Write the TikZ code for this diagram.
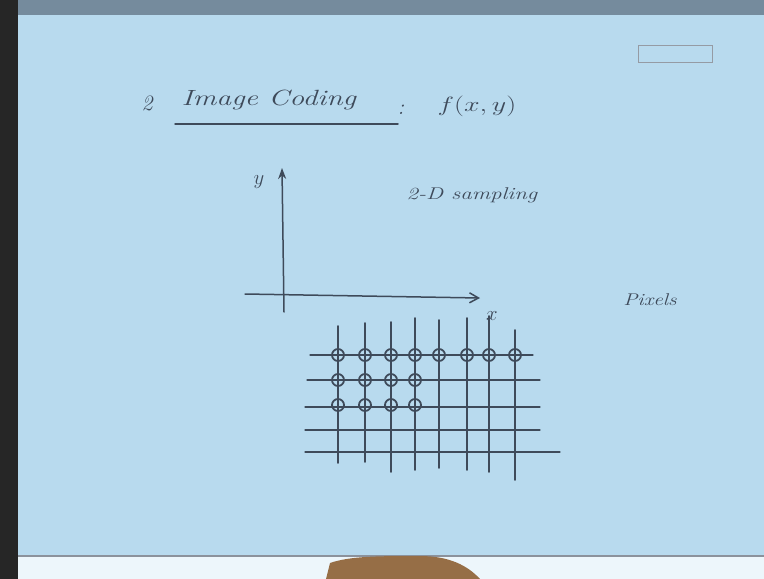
\documentclass[tikz,border=0pt]{standalone}
\usepackage{amsmath,amssymb}
\usepackage{tikz}
\usetikzlibrary{arrows.meta,positioning}
\usepackage{xcolor}
\definecolor{board}{RGB}{184,218,238}
\definecolor{ink}{RGB}{62,74,90}
\definecolor{skin}{RGB}{150,110,70}
\newcommand{\wide}[1]{\scalebox{1.35}[1]{#1}}

\begin{document}
\begin{tikzpicture}[x=1pt,y=-1pt,
  hand/.style={ink,line width=1.5pt,line cap=round},
  txt/.style={ink,font=\fontsize{22}{26}\selectfont\itshape},
  small/.style={ink,font=\fontsize{17}{20}\selectfont\itshape},
  pix/.style={circle,draw=ink,line width=1.8pt,minimum size=12pt,inner sep=0pt}]
 \useasboundingbox (0,0) rectangle (764,579);
 \fill[board] (0,0) rectangle (764,579);
 % frame of the photo
 \fill[black!85] (0,0) rectangle (18,579);
 \fill[ink!55!board] (18,0) rectangle (764,15);
 \fill[board!25!white] (18,556) rectangle (764,579);
 \draw[ink!60,line width=1.2pt] (18,556) -- (764,556);
 \fill[skin] (326,579) -- (330,563) .. controls (350,556) and (380,556) .. (420,556) .. controls (450,556) and (468,566) .. (480,579) -- cycle;
 % title
 \node[txt] (num) at (147,103) {2};
 \node[txt,anchor=west] (title) at (178,100) {\wide{Image Coding}};
 \node[txt] (colon) at (401,110) {:};
 \coordinate (ul1) at (175,124);
 \coordinate (ul2) at (398,124);
 \draw[hand] (ul1) -- (ul2);
 \node[txt] (fxy) at (477,106) {\wide{$f(x,y)$}};
 \node[small] (samp) at (472,195) {\wide{2-D sampling}};
 \node[small] (pixels) at (650,300) {\scalebox{1.25}[1]{Pixels}};
 \node[draw=ink!55,line width=0.8pt,minimum width=74pt,minimum height=17pt] (tag) at (675,54) {};
 % axes
 \coordinate (ybot) at (284,312);
 \coordinate (ytip) at (282,168);
 \coordinate (xleft) at (245,294);
 \coordinate (xtip) at (480,298);
 \draw[hand,-{Stealth[length=11pt,width=8pt]}] (ybot) -- (ytip);
 \draw[hand,-{Straight Barb[length=9pt,width=10pt]}] (xleft) -- (xtip);
 \node[txt] (ylab) at (259,182) {$y$};
 \node[txt] (xlab) at (492,316) {$x$};
 % sampling grid
 \foreach \y/\l/\r in {355/310/533,380/307/540,407/305/540,430/305/540,452/305/560}
   \draw[hand,line width=1.3pt] (\l,\y) -- (\r,\y);
 \foreach \x/\t/\b in {338/326/463,365/323/462,391/322/472,415/318/470,439/320/468,467/318/470,489/316/472,515/330/480}
   \draw[hand,line width=1.6pt] (\x,\t) -- (\x,\b);
 % pixels
 \foreach \x [count=\i] in {338,365,391,415,439,467,489,515}
   \node[pix] (p1\i) at (\x,355) {};
 \foreach \x [count=\i] in {338,365,391,415}{
   \node[pix] (p2\i) at (\x,380) {};
   \node[pix] (p3\i) at (\x,405) {};
 }
\end{tikzpicture}
\end{document}
